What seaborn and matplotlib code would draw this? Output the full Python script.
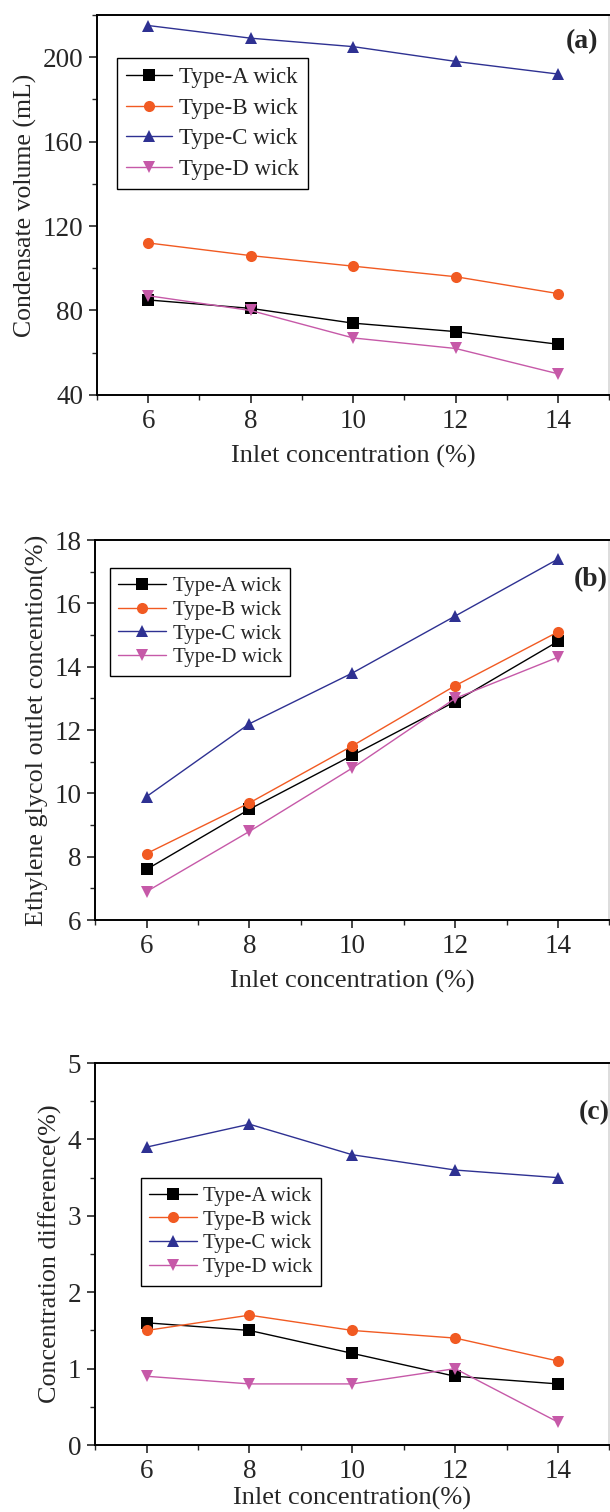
import pandas as pd
import seaborn as sns
import matplotlib.pyplot as plt
from matplotlib.ticker import MultipleLocator

# data
conc = [6, 8, 10, 12, 14]
wicks = ['Type-A wick', 'Type-B wick', 'Type-C wick', 'Type-D wick']

vol_a = [85, 81, 74, 70, 64]
vol_b = [112, 106, 101, 96, 88]
vol_c = [215, 209, 205, 198, 192]
vol_d = [87, 80, 67, 62, 50]

out_a = [7.6, 9.5, 11.2, 12.9, 14.8]
out_b = [8.1, 9.7, 11.5, 13.4, 15.1]
out_c = [9.9, 12.2, 13.8, 15.6, 17.4]
out_d = [6.9, 8.8, 10.8, 13.0, 14.3]

diff_a = [1.6, 1.5, 1.2, 0.9, 0.8]
diff_b = [1.5, 1.7, 1.5, 1.4, 1.1]
diff_c = [3.9, 4.2, 3.8, 3.6, 3.5]
diff_d = [0.9, 0.8, 0.8, 1.0, 0.3]

colors = ['#000000', '#F15A22', '#2E3192', '#C659A8']
markers = ['s', 'o', '^', 'v']


def long_df(series):
    rows = []
    for name, vals in zip(wicks, series):
        for x, v in zip(conc, vals):
            rows.append({'conc': x, 'val': v, 'wick': name})
    return pd.DataFrame(rows)


sns.set_style('ticks')
plt.rcParams['font.family'] = ['Liberation Serif', 'DejaVu Serif']

fig = plt.figure(figsize=(6.1, 15.12), dpi=100)

panels = [
    dict(series=[vol_a, vol_b, vol_c, vol_d], ylim=(40, 220), major=40, minor=20,
         ylabel='Condensate volume (mL)', xlabel='Inlet concentration (%)',
         pos=[0.159, 0.7388, 0.840, 0.2513], tag='(a)', tagpos=(0.915, 0.93),
         leg=(0.039, 0.887), legsize=16.5, spacing=0.42, hlen=2.0,
         labelpad=8, ylsize=18.5),
    dict(series=[out_a, out_b, out_c, out_d], ylim=(6, 18), major=2, minor=1,
         ylabel='Ethylene glycol outlet concention(%)', xlabel='Inlet concentration (%)',
         pos=[0.156, 0.3915, 0.843, 0.2513], tag='(b)', tagpos=(0.93, 0.895),
         leg=(0.029, 0.926), legsize=15, spacing=0.2, hlen=2.3,
         labelpad=8, ylsize=18.8),
    dict(series=[diff_a, diff_b, diff_c, diff_d], ylim=(0, 5), major=1, minor=0.5,
         ylabel='Concentration difference(%)', xlabel='Inlet concentration(%)',
         pos=[0.156, 0.0443, 0.843, 0.2526], tag='(c)', tagpos=(0.94, 0.87),
         leg=(0.089, 0.699), legsize=15, spacing=0.2, hlen=2.3,
         labelpad=2, ylsize=18.8),
]

for p in panels:
    ax = fig.add_axes(p['pos'])
    df = long_df(p['series'])
    sns.lineplot(data=df, x='conc', y='val', hue='wick', style='wick',
                 palette=colors, markers=markers, dashes=False,
                 markersize=8, markeredgewidth=0, linewidth=1.0, ax=ax)
    ax.set_xlim(5, 15)
    ax.set_ylim(*p['ylim'])
    ax.xaxis.set_major_locator(MultipleLocator(2))
    ax.xaxis.set_minor_locator(MultipleLocator(1))
    ax.yaxis.set_major_locator(MultipleLocator(p['major']))
    ax.yaxis.set_minor_locator(MultipleLocator(p['minor']))
    ax.set_xticks([6, 8, 10, 12, 14])
    ax.tick_params(which='major', direction='out', length=6, width=1.2, labelsize=19.5,
                   top=False, right=False, pad=4)
    ax.tick_params(which='minor', direction='out', length=3.5, width=1.0,
                   top=False, right=False)
    for s in ax.spines.values():
        s.set_linewidth(1.4)
        s.set_color('black')
    ax.spines['right'].set_color('#dddddd')
    ax.set_xlabel(p['xlabel'], fontsize=19, labelpad=p['labelpad'])
    ax.set_ylabel(p['ylabel'], fontsize=p['ylsize'], labelpad=4)
    ax.text(p['tagpos'][0], p['tagpos'][1], p['tag'], transform=ax.transAxes,
            fontsize=20, fontweight='bold', ha='left', va='center')
    leg = ax.legend(loc='upper left', bbox_to_anchor=p['leg'], borderaxespad=0,
                    fontsize=p['legsize'], frameon=True, fancybox=False,
                    edgecolor='black', framealpha=1, handlelength=p['hlen'],
                    handletextpad=0.3, labelspacing=p['spacing'], borderpad=0.4)
    leg.get_frame().set_linewidth(1.0)

fig.savefig('out.png', dpi=100)
